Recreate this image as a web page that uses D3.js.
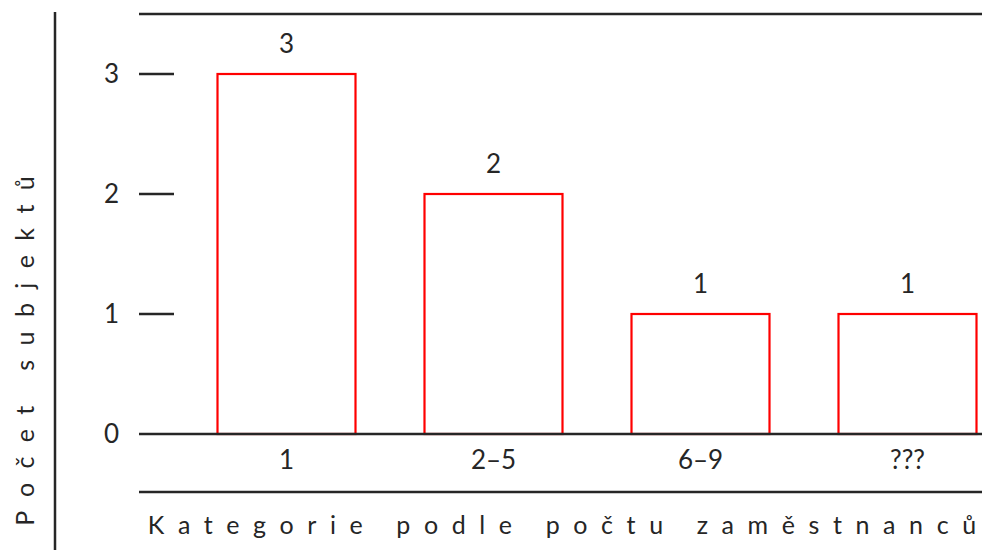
<!DOCTYPE html>
<html>
<head>
<meta charset="utf-8">
<script src="https://cdn.jsdelivr.net/npm/d3@7"></script>
<style>
  html, body { margin: 0; padding: 0; background: #fff; }
  svg { display: block; font-family: Lato, "Noto Sans", sans-serif; font-weight: 400; }
</style>
</head>
<body>
<svg id="chart" width="982" height="550"></svg>
<script>
// Počet subjektů podle kategorie počtu zaměstnanců
const categories = ["1", "2–5", "6–9", "???"];
const counts = [3, 2, 1, 1];
const yTicks = [0, 1, 2, 3];
const xTitle = "Kategorie podle počtu zaměstnanců";
const yTitle = "Počet subjektů";

const ink = "#262626";
const barColor = "#ff0000";
const font = "Lato, 'Noto Sans', sans-serif";
const labelSize = 26;

const svg = d3.select("#chart");

const y = d3.scaleLinear().domain([0, 3]).range([434, 74]);
const x = d3.scaleBand()
  .domain(categories)
  .range([183, 1011])
  .paddingInner(1 / 3)
  .paddingOuter(1 / 6);

// frame lines
svg.append("line")
  .attr("x1", 55).attr("x2", 55).attr("y1", 12).attr("y2", 550)
  .attr("stroke", ink).attr("stroke-width", 2.5);
svg.append("line")
  .attr("x1", 139).attr("x2", 982).attr("y1", 14).attr("y2", 14)
  .attr("stroke", ink).attr("stroke-width", 2.5);
svg.append("line")
  .attr("x1", 139).attr("x2", 982).attr("y1", 492).attr("y2", 492)
  .attr("stroke", ink).attr("stroke-width", 2.5);

// bars
svg.append("g").selectAll("rect")
  .data(categories)
  .join("rect")
  .attr("x", d => x(d))
  .attr("width", x.bandwidth())
  .attr("y", (d, i) => y(counts[i]))
  .attr("height", (d, i) => y(0) - y(counts[i]))
  .attr("fill", "none")
  .attr("stroke", barColor)
  .attr("stroke-width", 2.2);

// y axis: short ticks with labels
const yAxis = d3.axisLeft(y)
  .tickValues(yTicks)
  .tickSize(0)
  .tickPadding(0)
  .tickFormat(d3.format("d"));
const gy = svg.append("g").attr("transform", "translate(119,0)").call(yAxis);
gy.select(".domain").remove();
gy.selectAll("text")
  .attr("fill", ink)
  .attr("font-size", labelSize)
  .attr("font-family", font);
svg.append("g").selectAll("line")
  .data(yTicks.filter(d => d > 0))
  .join("line")
  .attr("x1", 139).attr("x2", 174)
  .attr("y1", d => y(d)).attr("y2", d => y(d))
  .attr("stroke", ink).attr("stroke-width", 2.5);

// baseline
svg.append("line")
  .attr("x1", 139).attr("x2", 982).attr("y1", y(0)).attr("y2", y(0))
  .attr("stroke", ink).attr("stroke-width", 2.5);

// x axis category labels
const xAxis = d3.axisBottom(x).tickSize(0).tickPadding(0);
const gx = svg.append("g").attr("transform", "translate(0,451)").call(xAxis);
gx.select(".domain").remove();
gx.selectAll("text")
  .attr("fill", ink)
  .attr("font-size", labelSize)
  .attr("font-family", font);

// value labels
svg.append("g").selectAll("text")
  .data(categories)
  .join("text")
  .attr("x", d => x(d) + x.bandwidth() / 2)
  .attr("y", (d, i) => y(counts[i]) - 21)
  .attr("text-anchor", "middle")
  .attr("fill", ink)
  .attr("font-size", labelSize)
  .text((d, i) => counts[i]);

// spaced-out title; the last glyph carries no trailing spacing
function spacedTitle(sel, str, spacing) {
  sel.attr("letter-spacing", spacing);
  sel.append("tspan").text(str.slice(0, -1));
  sel.append("tspan").attr("letter-spacing", 0).text(str.slice(-1));
  return sel;
}

spacedTitle(
  svg.append("text")
    .attr("x", 562).attr("y", 534)
    .attr("text-anchor", "middle")
    .attr("fill", ink)
    .attr("font-size", 25),
  xTitle, 13.6);

spacedTitle(
  svg.append("text")
    .attr("transform", "translate(34,351) rotate(-90)")
    .attr("text-anchor", "middle")
    .attr("fill", ink)
    .attr("font-size", 25),
  yTitle, 14.4);
</script>
</body>
</html>
